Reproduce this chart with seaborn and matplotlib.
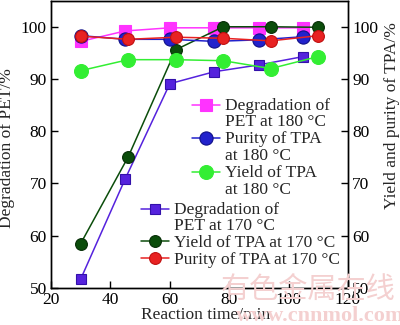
import matplotlib
matplotlib.use("Agg")
import matplotlib.pyplot as plt
from matplotlib.legend_handler import HandlerLine2D
import seaborn as sns
import pandas as pd

sns.set_theme(style="ticks")
plt.rcParams['font.family'] = ['Liberation Serif', 'DejaVu Serif']

# Reaction time (min)
time_a = [30, 45, 60, 75, 90, 105]
time_b = [30, 46, 62, 78, 94, 110]

# 180 °C series
deg_pet_180 = [97.2, 99.2, 99.8, 99.8, 99.8, 99.8]
purity_tpa_180 = [98.3, 97.6, 97.6, 97.2, 97.5, 98.1]
yield_tpa_180 = [91.6, 93.7, 93.7, 93.5, 92.0, 94.3]

# 170 °C series
deg_pet_170 = [51.7, 70.9, 89.1, 91.4, 92.7, 94.3]
yield_tpa_170 = [58.5, 75.1, 95.6, 100.0, 100.0, 99.9]
purity_tpa_170 = [98.2, 97.6, 98.0, 97.8, 97.3, 98.3]

labels_180 = ["Degradation of\nPET at 180 °C", "Purity of TPA\nat 180 °C", "Yield of TPA\nat 180 °C"]
labels_170 = ["Degradation of\nPET at 170 °C", "Yield of TPA at 170 °C", "Purity of TPA at 170 °C"]

FS = 12.5
LINESPACING = 1.07


class TopLineHandler(HandlerLine2D):
    """Places the legend marker beside the first line of a two-line label."""
    def __init__(self, shift=0.0, **kw):
        super().__init__(**kw)
        self.shift = shift

    def create_artists(self, legend, orig_handle, xdescent, ydescent, width,
                       height, fontsize, trans):
        return super().create_artists(legend, orig_handle, xdescent,
                                      ydescent - 2 * self.shift, width,
                                      height, fontsize, trans)


fig = plt.figure(figsize=(4.0, 3.25), dpi=100)
ax = fig.add_axes([0.1275, 0.114, 0.7425, 0.884])
ax2 = ax.twinx()

series = [
    (time_b, yield_tpa_170, "#0b4d0b", "o", 8.5, "#062e06", ax2),
    (time_a, deg_pet_170, "#5522dd", "s", 7, "#3311aa", ax),
    (time_b, yield_tpa_180, "#33ee33", "o", 10, "#33ee33", ax2),
    (time_a, deg_pet_180, "#ff33ff", "s", 8, "#ff33ff", ax),
    (time_a, purity_tpa_180, "#2222cc", "o", 9.5, "#101088", ax2),
    (time_b, purity_tpa_170, "#e82222", "o", 8.5, "#c01010", ax2),
]
handles = []
for x, y, c, m, ms, ec, target in series:
    df = pd.DataFrame({"t": x, "v": y})
    sns.lineplot(data=df, x="t", y="v", color=c, marker=m, markersize=ms,
                 markeredgecolor=ec, markeredgewidth=0.8, linewidth=1.1,
                 ax=target, legend=False)
    handles.append(target.lines[-1])

h_yield170, h_deg170, h_yield180, h_deg180, h_pur180, h_pur170 = handles

for a in (ax, ax2):
    a.set_xlim(20, 120)
    a.set_ylim(50, 105)
    a.set_yticks([50, 60, 70, 80, 90, 100])
    a.tick_params(direction="in", labelsize=FS, length=5, width=1,
                  colors="black", pad=3)
    for s in a.spines.values():
        s.set_color("black")
        s.set_linewidth(1.0)
ax.set_xticks([20, 40, 60, 80, 100, 120])
ax.set_xlabel("Reaction time/min", fontsize=FS)
ax.set_ylabel("Degradation of PET/%", fontsize=FS)
ax2.set_ylabel("Yield and purity of TPA/%", fontsize=FS)
ax.xaxis.set_label_coords(0.522, -0.066)
ax.yaxis.set_label_coords(-0.121, 0.486)
ax2.yaxis.set_label_coords(1.121, 0.6)

shift = 0.5 * FS * LINESPACING
leg_kw = dict(loc="upper left", bbox_transform=fig.transFigure, frameon=False,
              fontsize=FS, handlelength=1.6, handletextpad=0.3,
              labelspacing=0.05, borderpad=0.0, borderaxespad=0.0)

leg1 = ax2.legend([h_deg180, h_pur180, h_yield180], labels_180,
                  bbox_to_anchor=(0.48, 0.70),
                  handler_map={h: TopLineHandler(shift) for h in (h_deg180, h_pur180, h_yield180)},
                  **leg_kw)
ax2.add_artist(leg1)
leg2 = ax2.legend([h_deg170, h_yield170, h_pur170], labels_170,
                  bbox_to_anchor=(0.353, 0.38),
                  handler_map={h_deg170: TopLineHandler(shift)},
                  **leg_kw)
for lg in (leg1, leg2):
    for t in lg.get_texts():
        t.set_linespacing(LINESPACING)

fig.text(0.77, 0.108, "有色金属在线", fontsize=21, color="#f4d0d0",
         ha="center", va="center", family=["Noto Sans CJK SC", "DejaVu Sans"])
fig.text(0.80, 0.028, "www.cnnmol.com", fontsize=16, color="#f4d0d0",
         ha="center", va="center", fontweight="bold")

fig.savefig("out.png", dpi=100)
